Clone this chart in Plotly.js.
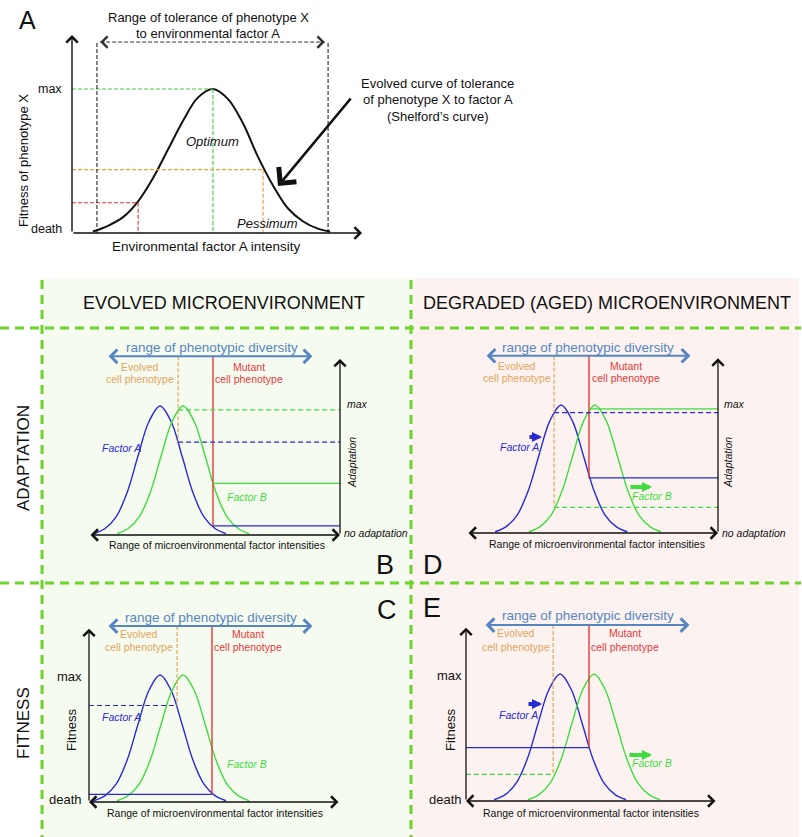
<!DOCTYPE html>
<html><head><meta charset="utf-8">
<script src="https://cdn.plot.ly/plotly-3.0.1.min.js"></script>
<style>body{margin:0;background:#fff}#chart{width:802px;height:837px}</style>
</head><body><div id="chart"></div>
<script>
// ---------------- DATA ----------------
// Panel A: Shelford's tolerance curve (x: factor A intensity 0-100, y: fitness, death = 0, max = 1)
const shelfordX = [7.2, 12.4, 17.6, 22.8, 27.9, 33.1, 38.3, 43.4, 48.6, 53.8, 59.0, 64.1, 69.3, 74.5, 79.7, 84.8, 89.0];
const shelfordY = [0.01, 0.05, 0.11, 0.22, 0.38, 0.58, 0.78, 0.94, 1.0, 0.93, 0.76, 0.53, 0.33, 0.17, 0.08, 0.03, 0.01];
const toleranceLimits = [8.6, 88.3];
const toleranceArrow = [9.7, 87.2];
const toleranceLevel = 1.326;
const optimumPoint = [48.6, 1.0];
const pessimumPoint = [65.9, 0.44];
const lowPoint = [22.8, 0.21];

// Panels B-E: tolerance curves (x: microenvironmental factor intensity 0-100, y: 0-1)
const curveShape = [0.01, 0.05, 0.14, 0.33, 0.61, 0.88, 1.0, 0.88, 0.61, 0.33, 0.14, 0.05, 0.01];
const evolvedFactorAX = [2.0, 6.4, 10.8, 15.2, 19.5, 23.9, 28.3, 32.7, 37.1, 41.4, 45.8, 50.2, 54.6];
const evolvedFactorBX = [11.2, 15.6, 20.0, 24.4, 28.7, 33.1, 37.5, 41.9, 46.3, 50.6, 55.0, 59.4, 63.8];
const agedFactorAX    = [11.2, 15.6, 20.0, 24.4, 28.7, 33.1, 37.5, 41.9, 46.3, 50.6, 55.0, 59.4, 63.8];
const agedFactorBX    = [24.7, 29.1, 33.5, 37.9, 42.2, 46.6, 51.0, 55.4, 59.8, 64.1, 68.5, 72.9, 77.3];

// phenotype positions [evolved, mutant]
const phenotypeB = [35.5, 49.4];
const phenotypeD = [34.7, 48.6];
const phenotypeC = [35.1, 49.0];
const phenotypeE = [34.7, 49.0];
// adaptation levels [evolved, mutant]
const adaptationB_A = [0.72, 0.07];
const adaptationB_B = [0.97, 0.40];
const adaptationD_A = [0.94, 0.43];
const adaptationD_B = [0.20, 0.97];
// fitness levels [evolved, mutant] and limiting factor
const fitnessC = [0.76, 0.06];
const limitingC = ['A', 'A'];
const fitnessE = [0.21, 0.42];
const limitingE = ['B', 'A'];
const diversityRange = [7.2, 89.0];
const diversityLevel = 1.385;
const axisTop = 1.365;

// ---------------- LAYOUT HELPERS ----------------
const W = 802, H = 837;
const FONT = 'Liberation Sans, Arial, Helvetica, sans-serif';
const COL = {blue:'#2a2ad2', green:'#3fdc3f', orange:'#e3a35c', red:'#e5393b', steel:'#5685c2',
             divider:'#6cd42a', bgGreen:'#f6fbef', bgPink:'#fcf3f0', ink:'#111111'};

const geo = {
  A: {ax:'x',  ay:'y',  ox:72,  oy:233, lx:290, sy:144, pad:[6,10,206,5]},
  B: {ax:'x2', ay:'y2', ox:89,  oy:535, lx:251, sy:129, pad:[10,12,186,5]},
  D: {ax:'x3', ay:'y3', ox:467, oy:533, lx:251, sy:128, pad:[10,12,186,5]},
  C: {ax:'x4', ay:'y4', ox:89,  oy:802, lx:251, sy:127, pad:[10,12,186,5]},
  E: {ax:'x5', ay:'y5', ox:466, oy:801, lx:251, sy:127, pad:[10,12,186,5]}
};

const layout = {
  width: W, height: H, margin:{l:0,r:0,t:0,b:0},
  paper_bgcolor:'#ffffff', plot_bgcolor:'rgba(0,0,0,0)', showlegend:false,
  shapes: [], annotations: []
};
const traces = [];
const shapes = layout.shapes, annotations = layout.annotations;

function axisName(id){ return id.replace(/^x/, 'xaxis').replace(/^y/, 'yaxis'); }
for (const k in geo) {
  const g = geo[k], sx = g.lx / 100, [pl, pr, pt, pb] = g.pad;
  layout[axisName(g.ax)] = {domain:[(g.ox - pl) / W, (g.ox + g.lx + pr) / W], range:[-pl / sx, (g.lx + pr) / sx],
                            anchor:g.ay, visible:false, fixedrange:true};
  layout[axisName(g.ay)] = {domain:[1 - (g.oy + pb) / H, 1 - (g.oy - pt) / H], range:[-pb / g.sy, pt / g.sy],
                            anchor:g.ax, visible:false, fixedrange:true};
}

function seg(p, x0, y0, x1, y1, color, width, dash) {
  shapes.push({type:'line', xref:geo[p].ax, yref:geo[p].ay, x0, y0, x1, y1,
               line:{color, width, dash: dash || 'solid'}});
}
function arrow(p, tx, ty, hx, hy, o) {
  o = o || {};
  annotations.push({xref:geo[p].ax, yref:geo[p].ay, axref:geo[p].ax, ayref:geo[p].ay,
    x:hx, y:hy, ax:tx, ay:ty, text:'', showarrow:true,
    arrowhead:o.head || 4, arrowsize:o.size || 1.7, startarrowhead:o.head || 4, startarrowsize:o.size || 1.7,
    arrowwidth:o.width || 1.3, arrowcolor:o.color || COL.ink, arrowside:o.side || 'end', standoff:0, startstandoff:0});
}
function parrow(tx, ty, hx, hy, o) {
  annotations.push({xref:'paper', yref:'paper', x:hx / W, y:1 - hy / H, ax:tx - hx, ay:ty - hy,
    text:'', showarrow:true, arrowhead:o.head || 2, arrowsize:o.size || 1, arrowwidth:o.width || 1,
    arrowcolor:o.color || COL.ink, standoff:0});
}
function txt(text, x, y, o) {
  o = o || {};
  annotations.push({xref:'paper', yref:'paper', x:x / W, y:1 - y / H, text, showarrow:false,
    xanchor:o.xa || 'center', yanchor:'middle', textangle:o.angle || 0, borderpad:0,
    font:{family:FONT, size:o.size || 12, color:o.color || COL.ink}});
}
function curve(p, xs, ys, color, width) {
  traces.push({x:xs, y:ys, xaxis:geo[p].ax, yaxis:geo[p].ay, mode:'lines', hoverinfo:'skip',
               line:{color, width, shape:'spline', smoothing:1}});
}

// ---------------- BACKGROUND / DIVIDERS ----------------
function prect(x0, y0, x1, y1, color) {
  shapes.push({type:'rect', xref:'paper', yref:'paper', x0:x0 / W, x1:x1 / W, y0:1 - y1 / H, y1:1 - y0 / H,
               fillcolor:color, line:{width:0}, layer:'below'});
}
function pline(x0, y0, x1, y1) {
  shapes.push({type:'line', xref:'paper', yref:'paper', x0:x0 / W, x1:x1 / W, y0:1 - y0 / H, y1:1 - y1 / H,
               line:{color:COL.divider, width:3, dash:'9px,6px'}});
}
prect(43, 278, 410, 837, COL.bgGreen);
prect(412, 278, 799, 837, COL.bgPink);
pline(42, 280, 42, 837);
pline(411, 280, 411, 837);
pline(0, 328, 801, 328);
pline(0, 583, 801, 583);

// ---------------- PANEL A ----------------
curve('A', shelfordX, shelfordY, '#111111', 2);
arrow('A', 0, 0, 0, 1.375, {size:1.6, width:1.4});
arrow('A', 0, 0, 100, 0, {size:1.6, width:1.4});
seg('A', 0, optimumPoint[1], optimumPoint[0], optimumPoint[1], '#3fcf3f', 1.1, '4px,2px');
seg('A', optimumPoint[0], optimumPoint[1], optimumPoint[0], 0, '#3fcf3f', 1.1, '4px,2px');
seg('A', 0, pessimumPoint[1], pessimumPoint[0], pessimumPoint[1], '#eaa23c', 1.2, '4px,2px');
seg('A', pessimumPoint[0], pessimumPoint[1], pessimumPoint[0], 0, '#eaa23c', 1.2, '4px,2px');
seg('A', 0, lowPoint[1], lowPoint[0], lowPoint[1], '#e03333', 1.1, '4px,2px');
seg('A', lowPoint[0], lowPoint[1], lowPoint[0], 0, '#e03333', 1.1, '4px,2px');
toleranceLimits.forEach(v => seg('A', v, 0, v, toleranceLevel, '#111', 1, '4px,2px'));
seg('A', toleranceArrow[0], toleranceLevel, toleranceArrow[1], toleranceLevel, '#333', 1, '4px,2px');
arrow('A', toleranceArrow[0] + 2, toleranceLevel, toleranceArrow[0], toleranceLevel, {size:2.2, width:1, color:'#333'});
arrow('A', toleranceArrow[1] - 2, toleranceLevel, toleranceArrow[1], toleranceLevel, {size:2.2, width:1, color:'#333'});
parrow(352, 97, 278, 186, {head:4, size:1.7, width:2.6});

txt('A', 27, 20, {size:25});
txt('Range of tolerance of phenotype X', 208, 18, {size:13});
txt('to environmental factor A', 208, 33, {size:13});
txt('max', 63, 89, {size:12.5, xa:'right'});
txt('death', 63, 229, {size:12.5, xa:'right'});
txt('Fitness of phenotype X', 23, 161, {size:13, angle:-90});
txt('Environmental factor A intensity', 206, 246, {size:13.5});
txt('<i>Optimum</i>', 212, 141, {size:13});
txt('<i>Pessimum</i>', 267, 224, {size:13});
txt('Evolved curve of tolerance', 438, 83, {size:13});
txt('of phenotype X to factor A', 438, 100, {size:13});
txt('(Shelford\u2019s curve)', 438, 116, {size:13});

// ---------------- SECTION HEADERS ----------------
txt('EVOLVED MICROENVIRONMENT', 224, 303, {size:18});
txt('DEGRADED (AGED) MICROENVIRONMENT', 607, 303, {size:18});
txt('ADAPTATION', 23, 458, {size:17, angle:-90});
txt('FITNESS', 23, 723, {size:17, angle:-90});
txt('B', 385, 565, {size:27});
txt('C', 387, 610, {size:27});
txt('D', 433, 565, {size:27});
txt('E', 432, 608, {size:27});

// ---------------- PANELS B-E ----------------
const LV = 1.3, DASH = '5px,3px';
function common(p, ax, bx, pheno, low) {
  curve(p, ax, curveShape, COL.blue, 1.4);
  curve(p, bx, curveShape, COL.green, 1.4);
  arrow(p, diversityRange[0], diversityLevel, diversityRange[1], diversityLevel,
        {side:'end+start', color:COL.steel, width:2, size:1.3});
  seg(p, pheno[0], diversityLevel, pheno[0], low[0], COL.orange, 1.2, '4px,2px');
  seg(p, pheno[1], diversityLevel, pheno[1], low[1], COL.red, 1.4);
}
function adaptationPanel(p, ax, bx, pheno, levA, levB) {
  arrow(p, 0, 0, 100, 0, {side:'end+start'});
  arrow(p, 100, 0, 100, axisTop);
  common(p, ax, bx, pheno, [Math.min(levA[0], levB[0]), Math.min(levA[1], levB[1])]);
  seg(p, pheno[0], levA[0], 100, levA[0], COL.blue, 1.2, DASH);
  seg(p, pheno[0], levB[0], 100, levB[0], COL.green, 1.2, DASH);
  seg(p, pheno[1], levA[1], 100, levA[1], COL.blue, LV);
  seg(p, pheno[1], levB[1], 100, levB[1], COL.green, LV);
}
function fitnessPanel(p, ax, bx, pheno, fit, limiting) {
  arrow(p, 100, 0, 0, 0, {side:'end+start'});
  arrow(p, 0, 0, 0, axisTop);
  common(p, ax, bx, pheno, fit);
  const c = f => f === 'A' ? COL.blue : COL.green;
  seg(p, 0, fit[0], pheno[0], fit[0], c(limiting[0]), 1.2, DASH);
  seg(p, 0, fit[1], pheno[1], fit[1], c(limiting[1]), LV);
}
adaptationPanel('B', evolvedFactorAX, evolvedFactorBX, phenotypeB, adaptationB_A, adaptationB_B);
adaptationPanel('D', agedFactorAX, agedFactorBX, phenotypeD, adaptationD_A, adaptationD_B);
fitnessPanel('C', evolvedFactorAX, evolvedFactorBX, phenotypeC, fitnessC, limitingC);
fitnessPanel('E', agedFactorAX, agedFactorBX, phenotypeE, fitnessE, limitingE);

// panel texts
const S = 10.5;
function phenoTexts(ex, mx, y1, y2, rx, ry) {
  txt('range of phenotypic diversity', rx, ry, {size:13.5, color:COL.steel});
  txt('Evolved', ex, y1, {size:S, color:COL.orange});
  txt('cell phenotype', ex, y2, {size:S, color:COL.orange});
  txt('Mutant', mx, y1, {size:S, color:COL.red});
  txt('cell phenotype', mx, y2, {size:S, color:COL.red});
}
// B
phenoTexts(140, 249, 367, 379, 212, 347);
txt('<i>max</i>', 357, 404, {size:S});
txt('<i>Adaptation</i>', 352, 463, {size:S, angle:-90});
txt('<i>no adaptation</i>', 343, 533, {size:S, xa:'left'});
txt('Range of microenvironmental factor intensities', 217, 545, {size:S});
txt('<i>Factor A</i>', 122, 448, {size:S, color:COL.blue});
txt('<i>Factor B</i>', 247, 497, {size:S, color:COL.green});
// D
phenoTexts(517, 626, 366, 378, 588, 347);
txt('<i>max</i>', 734, 404, {size:S});
txt('<i>Adaptation</i>', 728, 463, {size:S, angle:-90});
txt('<i>no adaptation</i>', 721, 533, {size:S, xa:'left'});
txt('Range of microenvironmental factor intensities', 597, 544, {size:S});
txt('<i>Factor A</i>', 519, 447, {size:S, color:COL.blue});
txt('<i>Factor B</i>', 652, 496, {size:S, color:COL.green});
parrow(528, 437, 542, 437, {head:2, size:0.5, width:4, color:COL.blue});
parrow(629, 487, 652, 487, {head:2, size:0.5, width:4, color:COL.green});
// C
phenoTexts(139, 248, 634, 647, 211, 617);
txt('max', 83, 676, {size:13, xa:'right'});
txt('death', 83, 799, {size:13, xa:'right'});
txt('Fitness', 71, 730, {size:13, angle:-90});
txt('Range of microenvironmental factor intensities', 215, 813, {size:S});
txt('<i>Factor A</i>', 121, 717, {size:S, color:COL.blue});
txt('<i>Factor B</i>', 247, 764, {size:S, color:COL.green});
// E
phenoTexts(516, 625, 633, 647, 588, 615);
txt('max', 463, 675, {size:13, xa:'right'});
txt('death', 463, 799, {size:13, xa:'right'});
txt('Fitness', 450, 730, {size:13, angle:-90});
txt('Range of microenvironmental factor intensities', 591, 813, {size:S});
txt('<i>Factor A</i>', 518, 715, {size:S, color:COL.blue});
txt('<i>Factor B</i>', 652, 763, {size:S, color:COL.green});
parrow(527, 704, 542, 704, {head:2, size:0.5, width:4, color:COL.blue});
parrow(628, 755, 652, 755, {head:2, size:0.5, width:4, color:COL.green});

Plotly.newPlot('chart', traces, layout, {staticPlot:true, displayModeBar:false});
</script>
</body></html>
